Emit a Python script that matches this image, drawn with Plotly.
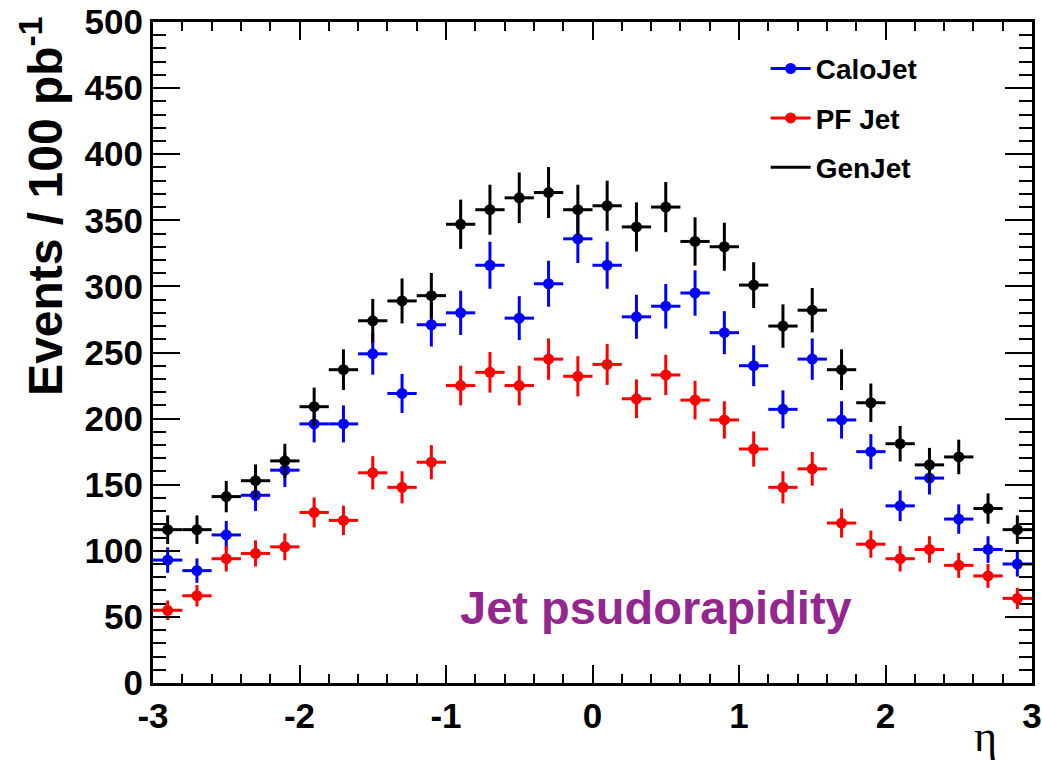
import numpy as np
import plotly.graph_objects as go

# bin centres of eta (bin width 0.2)
eta = [-2.9, -2.7, -2.5, -2.3, -2.1, -1.9, -1.7, -1.5, -1.3, -1.1,
       -0.9, -0.7, -0.5, -0.3, -0.1, 0.1, 0.3, 0.5, 0.7, 0.9,
       1.1, 1.3, 1.5, 1.7, 1.9, 2.1, 2.3, 2.5, 2.7, 2.9]

calojet = [93, 85, 112, 142, 161, 196, 196, 249, 219, 271,
           280, 316, 276, 302, 336, 316, 277, 285, 295, 265,
           240, 207, 245, 199, 175, 134, 155, 124, 101, 90]

pfjet = [55, 66, 94, 98, 103, 129, 123, 159, 148, 167,
         225, 235, 225, 245, 232, 241, 215, 233, 214, 199,
         177, 148, 162, 121, 105, 94, 101, 89, 81, 64]

genjet = [116, 116, 141, 153, 168, 209, 237, 274, 289, 293,
          347, 358, 367, 371, 358, 361, 345, 360, 334, 330,
          301, 270, 282, 237, 212, 181, 165, 171, 132, 116]

half_bin = 0.1

series = [
    ("CaloJet", calojet, "#0000ff", True),
    ("PF Jet", pfjet, "#ff0000", True),
    ("GenJet", genjet, "#000000", False),
]

fig = go.Figure()

for name, vals, col, mk in series:
    fig.add_trace(go.Scatter(
        x=eta, y=vals, mode="markers",
        marker=dict(color=col, size=11),
        error_x=dict(type="constant", value=half_bin, color=col, thickness=3, width=0),
        error_y=dict(type="data", array=np.sqrt(np.array(vals, dtype=float)),
                     color=col, thickness=3, width=0),
        showlegend=False, hoverinfo="x+y",
    ))

# legend entries
for name, vals, col, mk in series:
    fig.add_trace(go.Scatter(
        x=[None], y=[None],
        mode="lines+markers" if mk else "lines",
        line=dict(color=col, width=3),
        marker=dict(color=col, size=11),
        name="<b>%s</b>" % name,
        legendgroup=name,
    ))

axis_common = dict(
    showline=True, linecolor="black", linewidth=3, mirror="allticks",
    ticks="inside", tickcolor="black", tickwidth=2,
    showgrid=False, zeroline=False, automargin=False,
    tickfont=dict(family="Liberation Sans, Arial, sans-serif", size=35, color="black"),
)

fig.update_layout(
    width=1042, height=761,
    margin=dict(l=153, r=10, t=22, b=78),
    plot_bgcolor="white", paper_bgcolor="white",
    font=dict(family="Liberation Sans, Arial, sans-serif", color="black"),
    xaxis=dict(range=[-3, 3], ticklen=18,
               tickvals=[-3, -2, -1, 0, 1, 2, 3],
               ticktext=["<b>-3</b>", "<b>-2</b>", "<b>-1</b>", "<b>0</b>", "<b>1</b>", "<b>2</b>", "<b>3</b>"],
               minor=dict(dtick=0.2, ticklen=9, ticks="inside", tickcolor="black", tickwidth=2),
               **axis_common),
    yaxis=dict(range=[0, 500], ticklen=27,
               tickvals=[0, 50, 100, 150, 200, 250, 300, 350, 400, 450, 500],
               ticktext=["<b>%d</b>" % v for v in [0, 50, 100, 150, 200, 250, 300, 350, 400, 450, 500]],
               minor=dict(dtick=10, ticklen=13, ticks="inside", tickcolor="black", tickwidth=2),
               **axis_common),
    legend=dict(x=0.697, y=0.967, xanchor="left", yanchor="top",
                bgcolor="rgba(0,0,0,0)", borderwidth=0,
                font=dict(family="Liberation Sans, Arial, sans-serif", size=28, color="black"),
                itemwidth=40, tracegroupgap=10),
)

fig.add_annotation(
    text="<b>Events / 100 pb<sup>-1</sup></b>", textangle=-90,
    xref="paper", yref="paper", x=(42 - 153) / 879, y=1.01, xanchor="center", yanchor="top",
    showarrow=False, font=dict(family="Liberation Sans, Arial, sans-serif", size=48, color="black"),
)

fig.add_annotation(
    text="η", xref="paper", yref="paper", x=(985 - 153) / 879, y=(683 - 737) / 661,
    xanchor="center", yanchor="middle", showarrow=False,
    font=dict(family="Liberation Serif, Times New Roman, serif", size=44, color="black"),
)

fig.add_annotation(
    text="<b>Jet psudorapidity</b>", xref="x", yref="y", x=0.433, y=57,
    xanchor="center", yanchor="middle", showarrow=False,
    font=dict(family="Liberation Sans, Arial, sans-serif", size=47, color="#93278F"),
)

fig.write_html("out.html")
